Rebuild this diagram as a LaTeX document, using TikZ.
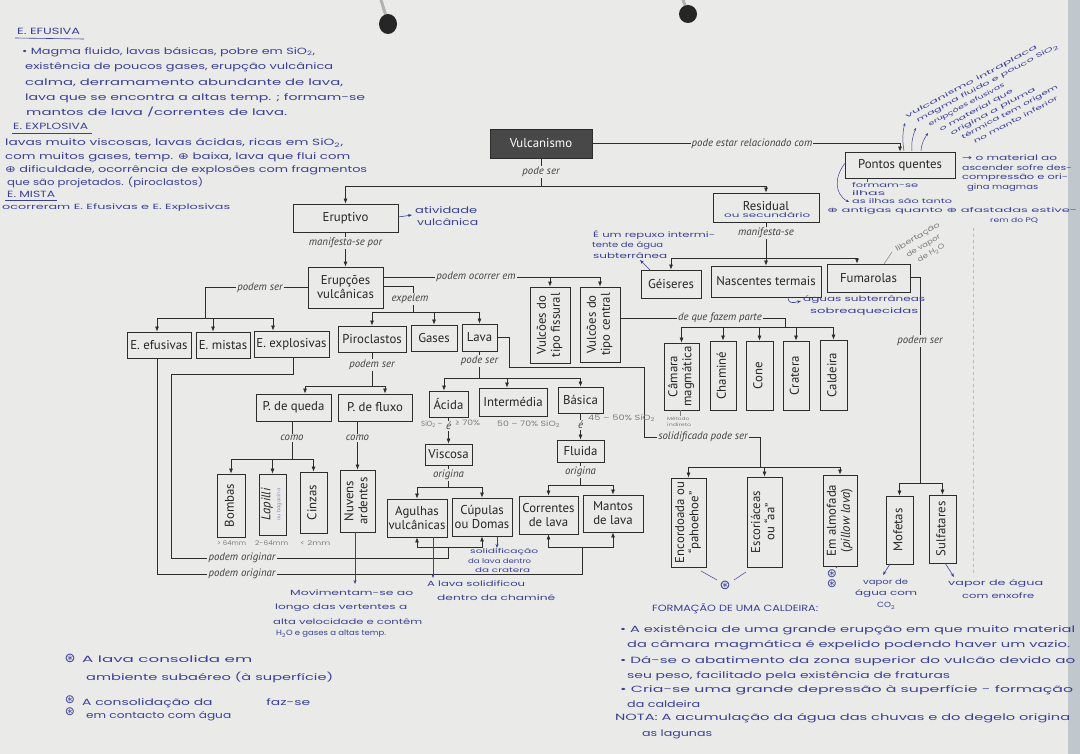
\documentclass[tikz,border=0pt]{standalone}
\usepackage{fontspec}
\usepackage{graphicx}
\setmainfont{PT Sans}
\newfontfamily\hfont{Poppins}
\newfontfamily\symf{DejaVu Sans}
\usetikzlibrary{arrows.meta}
\definecolor{paper}{RGB}{234,234,232}
\definecolor{lnc}{RGB}{45,45,45}
\definecolor{ink}{RGB}{60,64,150}
\definecolor{pencil}{RGB}{125,125,125}
\definecolor{vulc}{RGB}{72,72,72}
\definecolor{edgec}{RGB}{192,200,206}
\newcommand\hw[2]{\resizebox{#1pt}{\height}{#2}}
\newcommand\cplus{{\symf ⊕}}
\newcommand\bx[6][]{\node[box,#1,minimum width={(#4-#2)*1pt},minimum height={(#5-#3)*1pt}] (#6) at ({(#2+#4)/2},{(#3+#5)/2})}
\newcommand\rot[1]{\rotatebox{90}{\begin{tabular}{@{}c@{}}#1\end{tabular}}}
\tikzset{
  box/.style={draw=lnc, line width=0.8pt, fill=paper, inner sep=0.5pt, align=center,
    font=\fontsize{12.8}{14}\selectfont, text=black!85},
  lbl/.style={fill=paper, inner sep=1.2pt, font=\itshape\fontsize{10.8}{12}\selectfont, text=black!75},
  con/.style={draw=lnc, line width=0.7pt},
  arr/.style={con, -{Latex[length=5pt,width=4pt]}},
  hand/.style={text=ink, inner sep=0pt, anchor=west, font=\hfont\fontsize{9}{9}\selectfont},
  pen/.style={hand, text=pencil},
  inkarr/.style={draw=ink, line width=0.6pt, -{Stealth[length=4pt,width=3pt]}},
  small/.style={font=\hfont\fontsize{7.5}{8}\selectfont},
  tiny/.style={font=\hfont\fontsize{6.5}{7}\selectfont},
  astmark/.style={text=ink, inner sep=0pt, font=\symf\fontsize{13}{13}\selectfont},
}
\begin{document}
\begin{tikzpicture}[x=1pt,y=-1pt]
\fill[paper] (0,0) rectangle (1080,754);
\useasboundingbox (0,0) rectangle (1080,754);
\fill[edgec] (1068,0) rectangle (1080,754);
% binder holes
\draw[gray!60, line width=3pt] (381,0) -- (386,16);
\fill[black!85] (388,24) ellipse (9pt and 10pt);
\draw[gray!60, line width=3pt] (683,0) -- (686,8);
\fill[black!85] (688,14) ellipse (9pt and 9pt);
% fold line
\draw[gray!55, dashed, line width=0.6pt] (973,228) -- (973,575);

% ---------- boxes ----------
\bx[fill=vulc, text=white]{490}{129}{592}{158}{vul} {Vulcanismo};
\bx{845}{152}{955}{178}{pq} {Pontos quentes};
\bx{293}{204}{398}{232}{erv} {Eruptivo};
\bx{713}{193}{819}{222}{res} {\raisebox{3pt}{Residual}};
\bx{641}{270}{701}{298}{gei} {Géiseres};
\bx{711}{266}{821}{297}{nas} {Nascentes termais};
\bx{827}{264}{910}{292}{fum} {Fumarolas};
\bx{308}{267}{383}{308}{erc} {Erupções\\vulcânicas};
\bx{127}{332}{191}{358}{efu} {E. efusivas};
\bx{196}{332}{250}{358}{mis} {E. mistas};
\bx{254}{331}{329}{357}{exq} {E. explosivas};
\bx{338}{326}{406}{352}{pir} {Piroclastos};
\bx{411}{325}{457}{351}{gas} {Gases};
\bx{462}{324}{497}{351}{lav} {Lava};
\bx{530}{287}{570}{363}{fis} {\rot{Vulcões do\\tipo fissural}};
\bx{580}{287}{620}{362}{cen} {\rot{Vulcões do\\tipo central}};
\bx{664}{343}{699}{410}{cam} {\rot{Câmara\\magmática}};
\bx{710}{341}{736}{410}{cha} {\rot{Chaminé}};
\bx{746}{341}{773}{410}{cne} {\rot{Cone}};
\bx{783}{341}{809}{410}{cra} {\rot{Cratera}};
\bx{820}{340}{847}{410}{cal} {\rot{Caldeira}};
\bx{256}{394}{331}{421}{pdq} {P. de queda};
\bx{338}{394}{412}{421}{pdf} {P. de fluxo};
\bx{429}{391}{468}{417}{aci} {Ácida};
\bx{479}{388}{547}{416}{int} {Intermédia};
\bx{558}{387}{603}{413}{bas} {Básica};
\bx{425}{444}{472}{465}{vis} {Viscosa};
\bx{557}{440}{604}{462}{flu} {Fluida};
\bx{217}{474}{245}{537}{bom} {\rot{Bombas}};
\bx{259}{474}{286}{535}{lap} {\rot{\itshape Lapilli\\[-4pt]{\hfont\fontsize{5}{5}\selectfont\color{ink!60}ou bagacina}}};
\bx{300}{472}{327}{533}{cin} {\rot{Cinzas}};
\bx{340}{470}{375}{532}{nuv} {\rot{Nuvens\\ardentes}};
\bx{387}{499}{447}{537}{agu} {Agulhas\\vulcânicas};
\bx{452}{498}{512}{536}{cup} {Cúpulas\\ou Domas};
\bx{519}{496}{578}{534}{cor} {Correntes\\de lava};
\bx{583}{495}{643}{532}{man} {Mantos\\de lava};
\bx{671}{478}{706}{567}{enc} {\rot{Encordoada ou\\``pahoehoe''}};
\bx{747}{477}{782}{567}{esc} {\rot{Escoriáceas\\ou ``aa''}};
\bx{823}{475}{857}{566}{alm} {\rot{Em almofada\\(\textit{pillow lava})}};
\bx{886}{496}{913}{564}{mof} {\rot{Mofetas}};
\bx{929}{495}{956}{563}{sul} {\rot{Sulfatares}};

% ---------- connectors ----------
\draw[arr] (vul.south) |- (erv.north |- 0,186) -- (erv.north);
\draw[arr] (vul.south) |- (res.north |- 0,186) -- (res.north);
\node[lbl] at (541,172) {pode ser};
\draw[arr] (vul.east) -| (pq.north);
\node[lbl] at (752,143.5) {pode estar relacionado com};

\draw[arr] (erv.south) -- (erc.north);
\node[lbl] at (345.5,243) {manifesta-se por};

\draw[arr] (erc.west) -| (205,318) -| (efu.north -| 157,0);
\draw[arr] (erc.west) -| (205,318) -| (mis.north -| 213,0);
\draw[arr] (erc.west) -| (205,318) -| (exq.north -| 273,0);
\node[lbl] at (260,287.5) {podem ser};

\draw[arr] (erc.east |- 0,277) -| (fis.north);
\draw[arr] (erc.east |- 0,277) -| (cen.north);
\node[lbl] at (476,277) {podem ocorrer em};

\draw[arr] (erc.east |- 0,286) -| (413,312) -| (pir.north);
\draw[arr] (erc.east |- 0,286) -| (413,312) -| (gas.north);
\draw[arr] (erc.east |- 0,286) -| (413,312) -| (lav.north);
\node[lbl] at (410,299) {expelem};

\draw[arr] (pir.south) -- (372,386) -| (pdq.north -| 305,0);
\draw[arr] (pir.south) -- (372,386) -| (pdf.north -| 385,0);
\node[lbl] at (372,365) {podem ser};

\draw[arr] (pdq.south -| 292,0) -- (292,459) -| (bom.north);
\draw[arr] (pdq.south -| 292,0) -- (292,459) -| (lap.north);
\draw[arr] (pdq.south -| 292,0) -- (292,459) -| (cin.north);
\node[lbl] at (292,438) {como};
\draw[arr] (pdf.south -| 357.5,0) -- (nuv.north);
\node[lbl] at (357.5,438) {como};

\draw[arr] (lav.south) -- (479.5,378) -| (aci.north -| 444,0);
\draw[arr] (lav.south) -- (479.5,378) -| (int.north -| 507,0);
\draw[arr] (lav.south) -- (479.5,378) -| (bas.north);
\node[lbl] at (479.5,361) {pode ser};

\draw[arr] (aci.south) -- (vis.north);
\node[lbl] at (448.5,426) {é};
\draw[arr] (bas.south) -- (flu.north);
\node[lbl] at (580.5,425) {é};

\draw[arr] (vis.south) -- (448.5,487) -| (agu.north);
\draw[arr] (vis.south) -- (448.5,487) -| (cup.north);
\node[lbl] at (448.5,475) {origina};
\draw[arr] (flu.south) -- (580.5,485) -| (cor.north);
\draw[arr] (flu.south) -- (580.5,485) -| (man.north);
\node[lbl] at (580.5,472) {origina};

\draw[arr] (exq.south -| 293,0) -- (293,374) -- (171,374) -- (171,558) -- (448,558) -- (448,547) -| (agu.south);
\draw[arr] (exq.south -| 293,0) -- (293,374) -- (171,374) -- (171,558) -- (448,558) -- (448,547) -| (cup.south);
\node[lbl] at (242,558) {podem originar};
\draw[arr] (efu.south -| 157,0) -- (157,574) -- (582,574) -- (582,547) -| (cor.south);
\draw[arr] (efu.south -| 157,0) -- (157,574) -- (582,574) -- (582,547) -| (man.south);
\node[lbl] at (242,574) {podem originar};

\draw[arr] (lav.east) -- (509,337.5) -- (509,367) -- (644,367) -- (644,437) -- (760,437) -- (760,467) -| (enc.north);
\draw[arr] (lav.east) -- (509,337.5) -- (509,367) -- (644,367) -- (644,437) -- (760,437) -- (760,467) -| (esc.north);
\draw[arr] (lav.east) -- (509,337.5) -- (509,367) -- (644,367) -- (644,437) -- (760,437) -- (760,467) -| (alm.north);
\node[lbl] at (703,437) {solidificada pode ser};

\draw[arr] (cen.east |- 0,318) -- (785,318) -- (785,327) -| (cam.north);
\draw[arr] (cen.east |- 0,318) -- (785,318) -- (785,327) -| (cha.north);
\draw[arr] (cen.east |- 0,318) -- (785,318) -- (785,327) -| (cne.north);
\draw[arr] (cen.east |- 0,318) -- (785,318) -- (785,327) -| (cra.north);
\draw[arr] (cen.east |- 0,318) -- (785,318) -- (785,327) -| (cal.north);
\node[lbl] at (720,318) {de que fazem parte};

\draw[arr] (res.south) -- (766,258) -| (gei.north);
\draw[arr] (res.south) -- (766,258) -| (nas.north);
\draw[arr] (res.south) -- (766,258) -| (fum.north -| 857,0);
\node[lbl] at (766,233) {manifesta-se};

\draw[arr] (fum.east |- 0,277) -- (920,277) -- (920,483) -| (mof.north);
\draw[arr] (fum.east |- 0,277) -- (920,277) -- (920,483) -| (sul.north);
\node[lbl] at (920,341) {podem ser};

% ---------- handwritten notes ----------
\node[hand] at (17,31) {\hw{63}{E. EFUSIVA}};
\draw[ink, line width=0.6pt] (15,38) -- (84,39);
\node[hand] at (22,52) {\hw{293}{• Magma fluido, lavas básicas, pobre em SiO\textsubscript{2},}};
\node[hand] at (25,67) {\hw{308}{existência de poucos gases, erupção vulcânica}};
\node[hand] at (25,83) {\hw{318}{calma, derramamento abundante de lava,}};
\node[hand] at (25,98) {\hw{340}{lava que se encontra a altas temp. ; formam-se}};
\node[hand] at (26,112) {\hw{261}{mantos de lava /correntes de lava.}};
\node[hand] at (13,126) {\hw{75}{E. EXPLOSIVA}};
\draw[ink, line width=0.6pt] (12,133) -- (92,133);
\node[hand] at (5,143) {\hw{338}{lavas muito viscosas, lavas ácidas, ricas em SiO\textsubscript{2},}};
\node[hand] at (5,157) {\hw{345}{com muitos gases, temp. \cplus\ baixa, lava que flui com}};
\node[hand] at (5,170) {\hw{362}{\cplus\ dificuldade, ocorrência de explosões com fragmentos}};
\node[hand] at (7,182) {\hw{196}{que são projetados. (piroclastos)}};
\node[hand] at (7,194) {\hw{48}{E. MISTA}};
\draw[ink, line width=0.6pt] (5,200) -- (57,200);
\node[hand, small] at (2,208) {\hw{228}{ocorreram E. Efusivas e E. Explosivas}};

\draw[inkarr] (erv.east |- 0,217) -- (412,215);
\node[hand] at (415,210) {\hw{62}{atividade}};
\node[hand] at (417,222) {\hw{61}{vulcânica}};

\node[hand, tiny] at (724,215) {\hw{86}{ou secundário}};

\node[hand, small] at (593,235) {\hw{122}{É um repuxo intermi-}};
\node[hand, small] at (592,246) {\hw{71}{tente de água}};
\node[hand, small] at (593,256) {\hw{74}{subterrânea}};
\draw[inkarr] (650,270) -- (640,260);

\draw[inkarr] (788,297) .. controls (788,304) and (793,303) .. (801,301);
\node[hand, small] at (803,300) {\hw{122}{águas subterrâneas}};
\node[hand, small] at (810,312) {\hw{108}{sobreaquecidas}};

% Pontos quentes notes
\draw[ink, line width=0.5pt, -{Stealth[length=3pt,width=2.5pt]}] (904,151) .. controls (902,140) and (903,130) .. (905,123);
\draw[ink, line width=0.5pt, -{Stealth[length=3pt,width=2.5pt]}] (912,151) .. controls (911,143) and (913,135) .. (916,128);
\draw[ink, line width=0.5pt, -{Stealth[length=3pt,width=2.5pt]}] (921,151) .. controls (921,145) and (924,139) .. (928,133);
\begin{scope}[every node/.style={hand, rotate=28, font=\hfont\fontsize{6}{6}\selectfont}]
\node at (906,117) {\hw{148}{vulcanismo intraplaca}};
\node at (917,121) {\hw{160}{magma fluido e pouco SiO\textsubscript{2}}};
\node at (929,125) {\hw{85}{erupções efusivas}};
\node at (940,130) {\hw{82}{o material que}};
\node at (951,134) {\hw{95}{origina a pluma}};
\node at (962,138) {\hw{108}{térmica tem origem}};
\node at (974,142) {\hw{94}{no manto inferior}};
\end{scope}
\node[hand, small] at (962,158) {\hw{95}{{\symf →} o material ao}};
\node[hand, small] at (962,168) {\hw{110}{ascender sofre des-}};
\node[hand, small] at (962,178) {\hw{106}{compressão e ori-}};
\node[hand, small] at (967,188) {\hw{71}{gina magmas}};
\draw[ink, line width=0.5pt] (867,178) -- (867,182);
\node[hand, tiny] at (852,185) {\hw{66}{formam-se}};
\node[hand, tiny] at (852,193) {\hw{33}{ilhas}};
\node[hand, tiny] at (852,201) {\hw{100}{as ilhas são tanto}};
\node[hand, tiny] at (827,211) {\hw{250}{\cplus\ antigas quanto \cplus\ afastadas estive-}};
\node[hand, tiny] at (990,221) {\hw{48}{rem do PQ}};
\draw[ink, line width=0.5pt, -{Stealth[length=3pt,width=2.5pt]}] (846,162) .. controls (834,176) and (834,194) .. (849,202);

% Fumarolas pencil note
\draw[pencil, line width=0.5pt] (884,264) -- (892,252);
\begin{scope}[every node/.style={pen, rotate=30, font=\hfont\fontsize{7}{7}\selectfont}]
\node at (896,250) {\hw{50}{libertação}};
\node at (907,256) {\hw{38}{de vapor}};
\node at (918,261) {\hw{30}{de H\textsubscript{2}O}};
\end{scope}

% pencil values
\node[pen, tiny] at (217,543) {\hw{29}{> 64mm}};
\node[pen, tiny] at (255,543) {\hw{33}{2-64mm}};
\node[pen, tiny] at (300,543) {\hw{30}{< 2mm}};
\node[pen, small] at (421,424) {\hw{21}{SiO\textsubscript{2} –}};
\node[pen, small] at (455,423) {\hw{25}{≥ 70\%}};
\node[pen, small] at (497,424) {\hw{63}{50 – 70\% SiO\textsubscript{2}}};
\node[pen, small] at (588,418) {\hw{67}{45 – 50\% SiO\textsubscript{2}}};
\draw[pencil, line width=0.4pt] (680,410) -- (680,416);
\node[pen, font=\hfont\fontsize{4.5}{5}\selectfont] at (667,419) {\hw{22}{Método}};
\node[pen, font=\hfont\fontsize{4.5}{5}\selectfont] at (667,425) {\hw{24}{indireto}};

% notes under boxes
\draw[inkarr] (355,532) -- (355,584);
\node[hand, small] at (290,593) {\hw{123}{Movimentam-se ao}};
\node[hand, small] at (275,608) {\hw{132}{longo das vertentes a}};
\node[hand, small] at (273,622) {\hw{149}{alta velocidade e contêm}};
\node[hand, small] at (276,634) {\hw{110}{H\textsubscript{2}O e gases a altas temp.}};

\draw[inkarr] (433,537) -- (433,578);
\node[hand, small] at (427,584) {\hw{98}{A lava solidificou}};
\node[hand, small] at (437,598) {\hw{118}{dentro da chaminé}};
\draw[inkarr] (497,537) -- (497,548);
\node[hand, tiny] at (470,552) {\hw{68}{solidificação}};
\node[hand, tiny] at (468,561) {\hw{63}{da lava dentro}};
\node[hand, tiny] at (475,570) {\hw{55}{da cratera}};

\draw[ink, line width=0.5pt] (701,571) -- (717,580);
\draw[ink, line width=0.5pt] (746,572) -- (734,580);
\node[astmark] at (725,585) {⊛};
\draw[ink, line width=0.5pt] (838,566) -- (836,568);
\node[astmark, font=\symf\fontsize{12}{12}\selectfont] at (832,574) {⊛};
\node[astmark, font=\symf\fontsize{12}{12}\selectfont] at (832,584) {⊛};

\draw[inkarr] (890,564) -- (883,575);
\node[hand, small] at (863,583) {\hw{45}{vapor de}};
\node[hand, small] at (855,594) {\hw{62}{água com}};
\node[hand, small] at (877,606) {\hw{18}{CO\textsubscript{2}}};
\draw[inkarr] (945,563) -- (954,577);
\node[hand, small] at (948,584) {\hw{95}{vapor de água}};
\node[hand, small] at (962,596) {\hw{72}{com enxofre}};

% bottom-left notes
\node[astmark] at (70,658) {⊛};
\node[hand] at (82,659) {\hw{170}{A lava consolida em}};
\node[hand] at (86,677) {\hw{247}{ambiente subaéreo (à superfície)}};
\node[astmark, font=\symf\fontsize{12}{12}\selectfont] at (70,700) {⊛};
\node[astmark, font=\symf\fontsize{12}{12}\selectfont] at (70,712) {⊛};
\node[hand] at (82,703) {\hw{228}{A consolidação da \hspace{30pt} faz-se}};
\node[hand] at (86,716) {\hw{145}{em contacto com água}};

% bottom-right notes
\node[hand] at (652,609) {\hw{166}{FORMAÇÃO DE UMA CALDEIRA:}};
\node[hand] at (620,630) {\hw{455}{• A existência de uma grande erupção em que muito material}};
\node[hand] at (627,645) {\hw{443}{da câmara magmática é expelido podendo haver um vazio.}};
\node[hand] at (620,661) {\hw{455}{• Dá-se o abatimento da zona superior do vulcão devido ao}};
\node[hand] at (627,676) {\hw{323}{seu peso, facilitado pela existência de fraturas}};
\node[hand] at (620,690) {\hw{453}{• Cria-se uma grande depressão à superfície - formação}};
\node[hand] at (627,704) {\hw{73}{da caldeira}};
\node[hand] at (615,718) {\hw{455}{NOTA: A acumulação da água das chuvas e do degelo origina}};
\node[hand] at (642,734) {\hw{70}{as lagunas}};
\end{tikzpicture}
\end{document}
